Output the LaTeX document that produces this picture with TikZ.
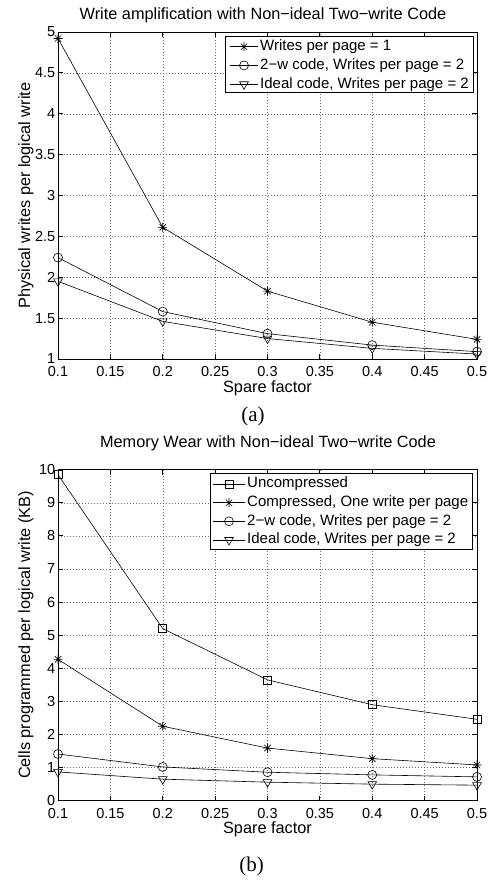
\documentclass[tikz,border=0pt]{standalone}
\usepackage{fontspec}
\setmainfont{Liberation Serif}
\newfontfamily\plotfont{Liberation Sans}
\usetikzlibrary{plotmarks}

% eight-ray asterisk (plus and cross together)
\pgfdeclareplotmark{ast8}{%
  \pgfpathmoveto{\pgfpointpolar{0}{\pgfplotmarksize}}\pgfpathlineto{\pgfpointpolar{180}{\pgfplotmarksize}}%
  \pgfpathmoveto{\pgfpointpolar{45}{\pgfplotmarksize}}\pgfpathlineto{\pgfpointpolar{225}{\pgfplotmarksize}}%
  \pgfpathmoveto{\pgfpointpolar{90}{\pgfplotmarksize}}\pgfpathlineto{\pgfpointpolar{270}{\pgfplotmarksize}}%
  \pgfpathmoveto{\pgfpointpolar{135}{\pgfplotmarksize}}\pgfpathlineto{\pgfpointpolar{315}{\pgfplotmarksize}}%
  \pgfusepathqstroke}

\tikzset{
  axbox/.style={line width=0.9pt},
  gridline/.style={black!60,line width=0.45pt,dash pattern=on 0.6pt off 2.4pt},
  curve/.style={line width=0.6pt},
  mstar/.style={mark=ast8,mark size=4.5pt},
  mcirc/.style={mark=o,mark size=4.5pt},
  mtri/.style={mark=triangle,mark size=5pt,mark options={rotate=180}},
  msq/.style={mark=square,mark size=4pt},
  ticklab/.style={font=\plotfont\fontsize{14.5}{15}\selectfont,inner sep=0pt},
  axlab/.style={font=\plotfont\fontsize{16.3}{17}\selectfont,inner sep=0pt},
  legtext/.style={font=\plotfont\fontsize{15}{16}\selectfont,inner sep=0pt,anchor=west},
  subcap/.style={font=\fontsize{21}{22}\selectfont,inner sep=0pt},
}

\begin{document}
\begin{tikzpicture}[x=1pt,y=1pt]
  \useasboundingbox (0,0) rectangle (490,880);

  % ---- (a) write amplification ----
  \node[axlab] (titlea) at (263,865) {Write amplification with Non−ideal Two−write Code};
  \node[axlab,rotate=90] (ylaba) at (26,684.5) {Physical writes per logical write};
  \begin{scope}[shift={(-46.75pt,439.25pt)},x=1047.5pt,y=81.75pt]
    \foreach \i in {3,...,9}
      \draw[gridline] ({\i/20},1) -- ({\i/20},5);
    \foreach \t in {1.5,2,2.5,3,3.5,4,4.5}
      \draw[gridline] (0.1,\t) -- (0.5,\t);
    \draw[curve,mstar] plot coordinates {(0.1,4.92) (0.2,2.61) (0.3,1.83) (0.4,1.45) (0.5,1.24)};
    \draw[curve,mcirc] plot coordinates {(0.1,2.24) (0.2,1.58) (0.3,1.31) (0.4,1.17) (0.5,1.09)};
    \draw[curve,mtri] plot coordinates {(0.1,1.95) (0.2,1.46) (0.3,1.25) (0.4,1.13) (0.5,1.06)};
    \draw[axbox] (0.1,1) rectangle (0.5,5);
    \foreach \t in {0.1,0.15,0.2,0.25,0.3,0.35,0.4,0.45,0.5} {
      \draw[axbox] (\t,1) -- ++(0,5pt) (\t,5) -- ++(0,-5pt);
      \node[ticklab,yshift=-13pt] at (\t,1) {\t};
    }
    \foreach \t in {1,1.5,2,2.5,3,3.5,4,4.5,5} {
      \draw[axbox] (0.1,\t) -- ++(5pt,0) (0.5,\t) -- ++(-5pt,0);
      \node[ticklab,anchor=east,xshift=-2.5pt] at (0.1,\t) {\t};
    }
    \node[axlab,yshift=-29pt] (xlaba) at (0.3,1) {Spare factor};
  \end{scope}
  % legend
  \draw[fill=white,line width=0.7pt] (225,844) rectangle (473,788);
  \draw[curve] (230,833.3) -- (258,833.3);
  \draw[curve,mstar] plot coordinates {(244,833.3)};
  \node[legtext] (lega1) at (260,833.3) {Writes per page = 1};
  \draw[curve] (230,814.5) -- (258,814.5);
  \draw[curve,mcirc] plot coordinates {(244,814.5)};
  \node[legtext] (lega2) at (260,814.5) {2−w code, Writes per page = 2};
  \draw[curve] (230,795.7) -- (258,795.7);
  \draw[curve,mtri] plot coordinates {(244,795.7)};
  \node[legtext] (lega3) at (260,795.7) {Ideal code, Writes per page = 2};
  \node[subcap] (capa) at (253,463.3) {(a)};

  % ---- (b) memory wear ----
  \node[axlab] (titleb) at (268,436.7) {Memory Wear with Non−ideal Two−write Code};
  \node[axlab,rotate=90] (ylabb) at (26,245.1) {Cells programmed per logical write (KB)};
  \begin{scope}[shift={(-46.75pt,79.3pt)},x=1047.5pt,y=33.1pt]
    \foreach \i in {3,...,9}
      \draw[gridline] ({\i/20},0) -- ({\i/20},10);
    \foreach \t in {1,...,9}
      \draw[gridline] (0.1,\t) -- (0.5,\t);
    \draw[curve,msq] plot coordinates {(0.1,9.85) (0.2,5.2) (0.3,3.65) (0.4,2.9) (0.5,2.46)};
    \draw[curve,mstar] plot coordinates {(0.1,4.27) (0.2,2.25) (0.3,1.59) (0.4,1.27) (0.5,1.08)};
    \draw[curve,mcirc] plot coordinates {(0.1,1.41) (0.2,1.02) (0.3,0.86) (0.4,0.78) (0.5,0.72)};
    \draw[curve,mtri] plot coordinates {(0.1,0.87) (0.2,0.65) (0.3,0.56) (0.4,0.50) (0.5,0.47)};
    \draw[axbox] (0.1,0) rectangle (0.5,10);
    \foreach \t in {0.1,0.15,0.2,0.25,0.3,0.35,0.4,0.45,0.5} {
      \draw[axbox] (\t,0) -- ++(0,5pt) (\t,10) -- ++(0,-5pt);
      \node[ticklab,yshift=-13pt] at (\t,0) {\t};
    }
    \foreach \t in {0,...,10} {
      \draw[axbox] (0.1,\t) -- ++(5pt,0) (0.5,\t) -- ++(-5pt,0);
      \node[ticklab,anchor=east,xshift=-2.5pt] at (0.1,\t) {\t};
    }
    \node[axlab,yshift=-29pt] (xlabb) at (0.3,0) {Spare factor};
  \end{scope}
  % legend
  \draw[fill=white,line width=0.7pt] (210,406.7) rectangle (472.7,330.7);
  \draw[curve] (213,396) -- (245,396);
  \draw[curve,msq] plot coordinates {(229,396)};
  \node[legtext] (legb1) at (247,396) {Uncompressed};
  \draw[curve] (213,377.3) -- (245,377.3);
  \draw[curve,mstar] plot coordinates {(229,377.3)};
  \node[legtext] (legb2) at (247,377.3) {Compressed, One write per page};
  \draw[curve] (213,358.7) -- (245,358.7);
  \draw[curve,mcirc] plot coordinates {(229,358.7)};
  \node[legtext] (legb3) at (247,358.7) {2−w code, Writes per page = 2};
  \draw[curve] (213,340) -- (245,340);
  \draw[curve,mtri] plot coordinates {(229,340)};
  \node[legtext] (legb4) at (247,340) {Ideal code, Writes per page = 2};
  \node[subcap] (capb) at (251.7,13.3) {(b)};
\end{tikzpicture}
\end{document}
